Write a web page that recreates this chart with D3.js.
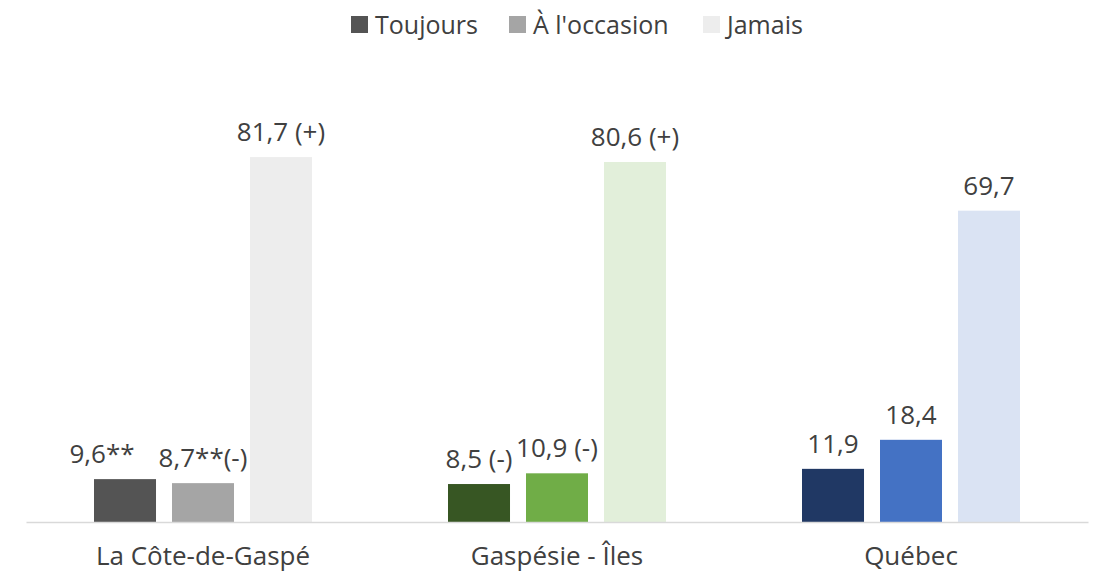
<!DOCTYPE html>
<html>
<head>
<meta charset="utf-8">
<script src="https://cdn.jsdelivr.net/npm/d3@7"></script>
<style>
  html, body { margin: 0; padding: 0; background: #fff; }
  svg { display: block; font-family: "Open Sans", "Noto Sans", sans-serif; }
</style>
</head>
<body>
<svg id="chart" width="1094" height="573"></svg>
<script>
// Regions and response categories
const categories = ["La Côte-de-Gaspé", "Gaspésie - Îles", "Québec"];
const seriesNames = ["Toujours", "À l'occasion", "Jamais"];

// Percentages by series, one value per region
const toujours = [9.6, 8.5, 11.9];
const occasion = [8.7, 10.9, 18.4];
const jamais = [81.7, 80.6, 69.7];

// Annotations appended to each value label
const toujoursNotes = ["**", " (-)", ""];
const occasionNotes = ["**(-)", " (-)", ""];
const jamaisNotes = [" (+)", " (+)", ""];

// Colour ramp for each region (dark, medium, light)
const regionColors = [
  ["#545454", "#A5A5A5", "#EDEDED"],
  ["#375623", "#70AD47", "#E2EFDA"],
  ["#203864", "#4472C4", "#DAE3F3"]
];

const seriesValues = [toujours, occasion, jamais];
const seriesNotes = [toujoursNotes, occasionNotes, jamaisNotes];

const svg = d3.select("#chart");
const textColor = "#404040";
const fontFamily = "\"Open Sans\", \"Noto Sans\", sans-serif";
const fmt = v => d3.format(".1f")(v).replace(".", ",");

const x0 = d3.scaleBand().domain(categories).range([26, 1088]).padding(0);
const x1 = d3.scaleBand().domain(seriesNames).range([0, x0.bandwidth()])
  .paddingInner(0.205).paddingOuter(0.872);
const y = d3.scaleLinear().domain([0, 90]).range([522, 120]);

// Flatten into one record per bar
const bars = [];
categories.forEach((c, ci) => {
  seriesNames.forEach((s, si) => {
    bars.push({
      category: c, series: s, value: seriesValues[si][ci],
      label: fmt(seriesValues[si][ci]) + seriesNotes[si][ci],
      color: regionColors[ci][si]
    });
  });
});

// The first label is nudged left so it clears its crowded neighbour
const labelNudge = d => (d.category === categories[0] && d.series === seriesNames[0]) ? -23 : 0;

const g = svg.append("g");

g.selectAll("rect.bar").data(bars).join("rect")
  .attr("class", "bar")
  .attr("x", d => x0(d.category) + x1(d.series))
  .attr("width", x1.bandwidth())
  .attr("y", d => y(d.value))
  .attr("height", d => y(0) - y(d.value))
  .attr("fill", d => d.color);

g.selectAll("text.value").data(bars).join("text")
  .attr("class", "value")
  .attr("x", d => x0(d.category) + x1(d.series) + x1.bandwidth() / 2 + labelNudge(d))
  .attr("y", d => y(d.value) - 16)
  .attr("text-anchor", "middle")
  .attr("font-size", 26)
  .attr("fill", textColor)
  .text(d => d.label);

// Baseline axis
const xAxis = d3.axisBottom(x0).tickSize(0).tickPadding(0);
const axisG = svg.append("g").attr("transform", `translate(0,${y(0)})`).call(xAxis);
axisG.select(".domain").attr("stroke", "#D9D9D9").attr("stroke-width", 1.5);
axisG.selectAll(".tick text")
  .attr("font-size", 26)
  .attr("font-family", fontFamily)
  .attr("fill", textColor)
  .attr("dy", 0)
  .attr("y", 43);

// Legend (swatches use the first region's palette)
const legend = svg.append("g");
const legendX = [351, 509, 703];
seriesNames.forEach((s, i) => {
  const item = legend.append("g").attr("transform", `translate(${legendX[i]},0)`);
  item.append("rect").attr("x", 0).attr("y", 16).attr("width", 17).attr("height", 17)
    .attr("fill", regionColors[0][i]);
  item.append("text").attr("x", 24).attr("y", 34)
    .attr("font-size", 25).attr("fill", textColor).text(s);
});
</script>
</body>
</html>
